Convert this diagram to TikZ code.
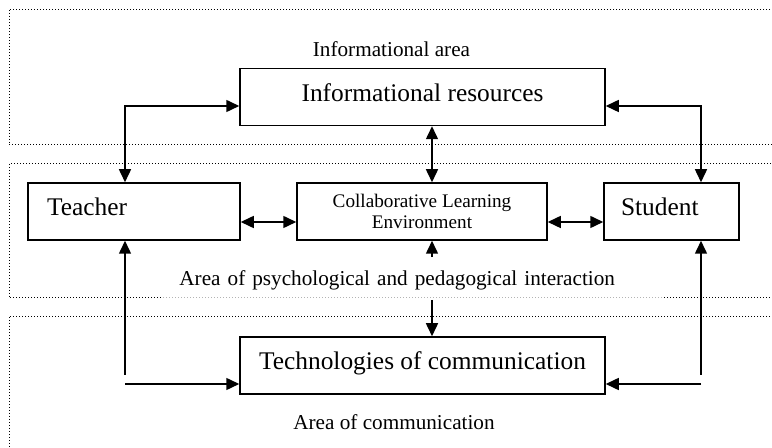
\documentclass[tikz,border=0pt]{standalone}
\usepackage{fontspec}
\setmainfont{Liberation Serif}
\usetikzlibrary{arrows.meta,positioning}

\begin{document}
\begin{tikzpicture}[x=0.5pt, y=-0.5pt, >={Triangle[length=6.5pt,width=6pt]},
	boxbase/.style={draw, line width=0.75pt},
	box/.style={boxbase, inner ysep=0pt, text height=16.5pt, text depth=12pt, font=\fontsize{12.7}{15}\selectfont},
	area/.style={draw, line width=0.5pt, densely dotted},
	note/.style={font=\fontsize{10.6}{13}\selectfont, anchor=base}]
	\useasboundingbox (0,0) rectangle (772,448);
	\clip (0,0) rectangle (772,448);
	\draw[area] (9,10) rectangle (790,145);
	\draw[area] (9,164) rectangle (790,298);
	\draw[area] (9,317) rectangle (790,470);
	\begin{scope}[every node/.style={box}]
		\node (infores) at (422.5,97) [minimum width=182.5pt] {Informational resources};
		\node (teacher) at (134,211.5) [text width=87pt, inner xsep=9.5pt, align=left] {Teacher};
		\node (student) at (671.5,211.5) [text width=50.5pt, inner xsep=8.5pt, align=left] {Student};
		\node (tech) at (422.5,365.5) [minimum width=182.5pt] {Technologies of communication};
	\end{scope}
	\node[boxbase, minimum width=125pt, minimum height=28.5pt, align=center, font=\fontsize{9.6}{10.5}\selectfont] (cle) at (422,211.5) {Collaborative Learning\\Environment};
	\node[note] (infoarea) at (391.5,57) {Informational area};
	\node[note] (commarea) at (394,430) {Area of communication};
	\node[note, anchor=south west, fill=white, fill opacity=0.7, text opacity=1, text width=233.5pt, inner xsep=8.5pt, inner ysep=0pt, text height=14pt, text depth=7pt, align=left] (psyarea) at (162,300) {Area of psychological and pedagogical interaction};
	\coordinate (mid) at (432,0);
	\coordinate (tcorner) at (125,106);
	\coordinate (scorner) at (701,106);
	\coordinate (hlevel) at (0,222);
	\coordinate (tlow) at (125,375);
	\coordinate (tbase) at (125,384);
	\coordinate (slow) at (701,375);
	\coordinate (sbase) at (701,384);
	\begin{scope}[every path/.style={line width=0.75pt}]
		\draw[<->] (teacher.north -| tcorner) |- (infores.west |- tcorner);
		\draw[<->] (student.north -| scorner) |- (infores.east |- scorner);
		\draw[<->] (infores.south -| mid) -- (cle.north -| mid);
		\draw[<->] (teacher.east |- hlevel) -- (cle.west |- hlevel);
		\draw[<->] (cle.east |- hlevel) -- (student.west |- hlevel);
		\draw[->] (psyarea.north -| mid) -- (cle.south -| mid);
		\draw[->] (psyarea.south -| mid) -- (tech.north -| mid);
		\draw[->] (tlow) -- (teacher.south -| tlow);
		\draw[->] (tbase) -- (tech.west |- tbase);
		\draw[->] (slow) -- (student.south -| slow);
		\draw[->] (sbase) -- (tech.east |- sbase);
	\end{scope}
\end{tikzpicture}
\end{document}
